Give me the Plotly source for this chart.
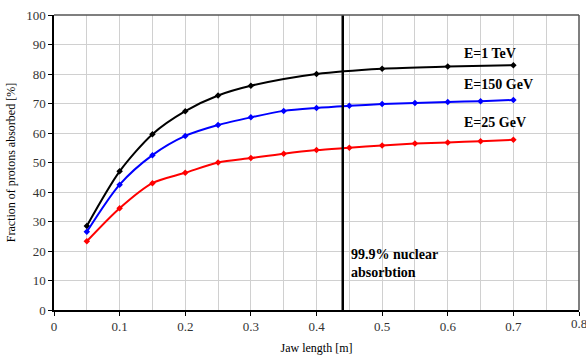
import plotly.graph_objects as go

x_1tev = [0.05, 0.1, 0.15, 0.2, 0.25, 0.3, 0.4, 0.5, 0.6, 0.7]
y_1tev = [28.5, 47.0, 59.6, 67.4, 72.7, 76.0, 80.0, 81.8, 82.5, 83.0]

x_150 = [0.05, 0.1, 0.15, 0.2, 0.25, 0.3, 0.35, 0.4, 0.45, 0.5, 0.55, 0.6, 0.65, 0.7]
y_150 = [26.5, 42.5, 52.5, 59.0, 62.7, 65.3, 67.5, 68.5, 69.2, 69.8, 70.2, 70.5, 70.8, 71.2]

x_25 = [0.05, 0.1, 0.15, 0.2, 0.25, 0.3, 0.35, 0.4, 0.45, 0.5, 0.55, 0.6, 0.65, 0.7]
y_25 = [23.3, 34.5, 43.0, 46.5, 50.0, 51.5, 53.0, 54.2, 55.0, 55.8, 56.4, 56.8, 57.2, 57.7]

labels = ["E=1 TeV", "E=150 GeV", "E=25 GeV"]
label_y = [87.1, 76.6, 63.4]
cut_x = 0.44

font = "Liberation Serif, Times New Roman, serif"
fig = go.Figure()
for xs, ys, c in [(x_1tev, y_1tev, "black"), (x_150, y_150, "blue"), (x_25, y_25, "red")]:
    fig.add_trace(go.Scatter(x=xs, y=ys, mode="lines+markers",
                             line=dict(color=c, width=2, shape="spline", smoothing=0.8),
                             marker=dict(symbol="diamond", size=5, color=c),
                             showlegend=False, cliponaxis=False))

fig.add_shape(type="line", x0=cut_x, x1=cut_x, y0=0, y1=100,
              line=dict(color="black", width=2.5), layer="above")

for t, yv in zip(labels, label_y):
    fig.add_annotation(x=0.622, y=yv, text="<b>%s</b>" % t, showarrow=False,
                       xanchor="left", font=dict(family=font, size=14, color="black"))

fig.add_annotation(x=0.449, y=15.9, text="<b>99.9% nuclear<br>absorbtion</b>", showarrow=False,
                   xanchor="left", align="left", font=dict(family=font, size=14, color="black"))

# last x tick label, partly beyond the right edge as in the reference
fig.add_annotation(x=0.8, xref="x", y=0, yref="paper", yanchor="top", yshift=-4,
                   text="0.8", showarrow=False, xanchor="center",
                   font=dict(family=font, size=13, color="#333333"))

fig.update_layout(
    width=586, height=358,
    margin=dict(l=54, r=7, t=15, b=48),
    paper_bgcolor="white", plot_bgcolor="white",
    font=dict(family=font, size=13, color="#333333"),
    xaxis=dict(range=[0, 0.8], dtick=0.1, tick0=0, showgrid=True, gridcolor="#d0d0d0",
               minor=dict(dtick=0.05, showgrid=True, gridcolor="#d0d0d0"),
               ticks="outside", ticklen=4, tickcolor="black", automargin=False,
               tickfont=dict(family=font, size=13, color="#333333"),
               showline=True, linecolor="black", linewidth=1.5, mirror=False,
               zeroline=False,
               title=dict(text="Jaw length [m]", font=dict(family=font, size=12, color="black"), standoff=10)),
    yaxis=dict(range=[0, 100], dtick=10, showgrid=True, gridcolor="#d0d0d0",
               ticks="outside", ticklen=4, tickcolor="black", automargin=False,
               tickfont=dict(family=font, size=13, color="#333333"),
               showline=True, linecolor="black", linewidth=1.5, zeroline=False,
               title=dict(text="Fraction of protons absorbed [%]", font=dict(family=font, size=12, color="black"), standoff=8)),
)
fig.add_shape(type="line", xref="paper", yref="paper", x0=0, x1=1, y0=1, y1=1,
              line=dict(color="#555555", width=1.5))
fig.add_shape(type="line", xref="paper", yref="paper", x0=1, x1=1, y0=0, y1=1,
              line=dict(color="#555555", width=1.5))

fig.write_html("out.html", config={"displayModeBar": False},
               post_script="document.body.style.margin='0';document.body.style.overflow='hidden';")
